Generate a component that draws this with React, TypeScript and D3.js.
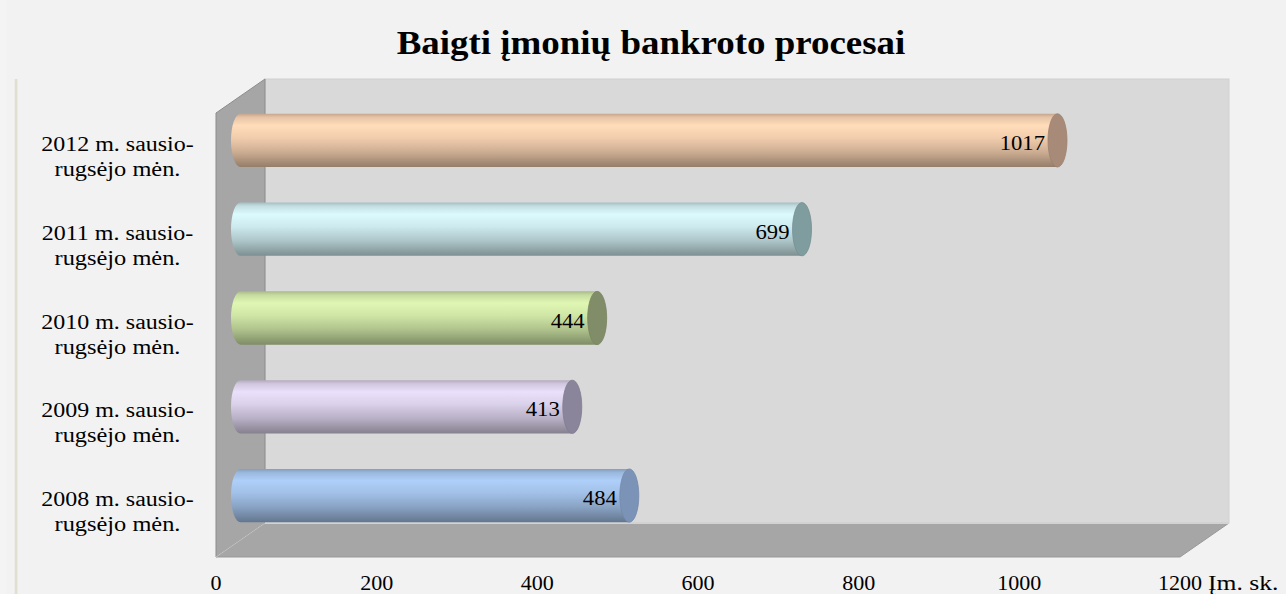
import React from 'react'
import * as d3 from 'd3'

const title = 'Baigti įmonių bankroto procesai'
const categories = [
  ['2008 m. sausio-', 'rugsėjo mėn.'],
  ['2009 m. sausio-', 'rugsėjo mėn.'],
  ['2010 m. sausio-', 'rugsėjo mėn.'],
  ['2011 m. sausio-', 'rugsėjo mėn.'],
  ['2012 m. sausio-', 'rugsėjo mėn.'],
]
const values = [484, 413, 444, 699, 1017]
const xTicks = [0, 200, 400, 600, 800, 1000, 1200]
const unitLabel = 'Įm. sk.'
const barColors = ['#a9c9f2', '#e4daf4', '#d9f0ae', '#d6f4f8', '#fdd6b5']
const capColors = ['#7b93b6', '#8a859a', '#818d68', '#7f9c9e', '#a88a78']

const W = 1286
const H = 594
const FONT = '"Liberation Serif", "Times New Roman", serif'

// 3D box: front plane + depth offset
const front = { left: 216, right: 1180, top: 113, bottom: 557 }
const depth = { dx: 49, dy: -34 }

function SText({ x, y, sx = 1, anchor = 'middle', size, weight = 'normal', children }: any) {
  return (
    <text
      transform={`translate(${x},${y}) scale(${sx},1)`}
      textAnchor={anchor}
      fontFamily={FONT}
      fontSize={size}
      fontWeight={weight}
      fill="#000"
    >
      {children}
    </text>
  )
}

export default function App() {
  const x = d3.scaleLinear().domain([0, 1200]).range([front.left, front.right])
  const idx = d3.range(categories.length)
  const y = d3
    .scaleBand<number>()
    .domain(idx.slice().reverse())
    .range([front.top, front.bottom])
    .padding(0)

  const bw = y.bandwidth()
  const r = bw * 0.3
  const rx = 9.5
  const midDx = depth.dx / 2
  const midDy = depth.dy / 2

  const bx = (v: number) => x(v) + midDx
  const bcy = (i: number) => (y(i) as number) + bw / 2 + midDy

  const back = {
    left: front.left + depth.dx,
    right: front.right + depth.dx,
    top: front.top + depth.dy,
    bottom: front.bottom + depth.dy,
  }

  const stops = (c: string) => {
    const col = d3.color(c)!
    return [
      [0, col.darker(0.7).formatHex()],
      [0.07, col.darker(0.25).formatHex()],
      [0.22, col.brighter(0.08).formatHex()],
      [0.45, col.darker(0.12).formatHex()],
      [0.72, col.darker(0.6).formatHex()],
      [1, col.darker(1.5).formatHex()],
    ] as [number, string][]
  }

  return (
    <svg
      width={W}
      height={H}
      style={{ position: 'absolute', left: 0, top: 0, display: 'block' }}
    >
      <defs>
        {barColors.map((c, i) => (
          <linearGradient key={i} id={`cyl${i}`} x1="0" y1="0" x2="0" y2="1">
            {stops(c).map(([o, s], k) => (
              <stop key={k} offset={o} stopColor={s} />
            ))}
          </linearGradient>
        ))}
        <linearGradient id="edge" x1="0" y1="0" x2="1" y2="0">
          <stop offset="0" stopColor="#f2f2f2" />
          <stop offset="0.5" stopColor="#ddd8c8" />
          <stop offset="1" stopColor="#f0f0f0" />
        </linearGradient>
      </defs>

      <rect x={0} y={0} width={W} height={H} fill="#f2f2f2" />
      <rect x={0} y={0} width={6} height={H} fill="#f4f4f4" />
      <rect x={14} y={79} width={4} height={H - 79} fill="url(#edge)" />

      <SText x={651} y={54} size={33} weight="bold" sx={1.12}>
        {title}
      </SText>

      {/* back wall */}
      <rect
        x={back.left}
        y={back.top}
        width={back.right - back.left}
        height={back.bottom - back.top}
        fill="#d9d9d9"
        stroke="#d0d0d0"
      />
      {/* side wall */}
      <polygon
        points={`${front.left},${front.top} ${back.left},${back.top} ${back.left},${back.bottom} ${front.left},${front.bottom}`}
        fill="#a6a6a6"
        stroke="#8c8c8c"
        strokeWidth={1}
      />
      {/* floor */}
      <polygon
        points={`${front.left},${front.bottom} ${back.left},${back.bottom} ${back.right},${back.bottom} ${front.right},${front.bottom}`}
        fill="#a6a6a6"
        stroke="#999"
        strokeWidth={1}
      />
      <line x1={back.left} x2={back.right} y1={back.bottom} y2={back.bottom} stroke="#d2d2d2" strokeWidth={2} />
      <line x1={front.left} y1={front.bottom} x2={back.left} y2={back.bottom} stroke="#c4c4c4" strokeWidth={1} />

      {/* cylinders */}
      {values.map((v, i) => {
        const x0 = bx(0)
        const x1 = bx(v)
        const cy = bcy(i)
        const top = cy - r
        const bot = cy + r
        const d = `M${x1},${top} L${x0},${top} A${rx},${r} 0 0 0 ${x0},${bot} L${x1},${bot} Z`
        return (
          <g key={i}>
            <path d={d} fill={`url(#cyl${i})`} />
            <ellipse cx={x1} cy={cy} rx={rx} ry={r} fill={capColors[i]} stroke={d3.color(capColors[i])!.darker(0.2).formatHex()} strokeWidth={0.8} />
            <SText x={x1 - rx - 3} y={cy + 9.5} size={22} anchor="end" sx={1.03}>
              {v}
            </SText>
          </g>
        )
      })}

      {/* category labels */}
      {categories.map((lines, i) => {
        const c = (y(i) as number) + bw / 2
        return (
          <g key={i}>
            <SText x={117.5} y={c - 6.5} size={20.5} sx={1.17}>
              {lines[0]}
            </SText>
            <SText x={117.5} y={c + 18.5} size={20.5} sx={1.19}>
              {lines[1]}
            </SText>
          </g>
        )
      })}

      {/* x ticks */}
      {xTicks.map((t) => (
        <SText key={t} x={x(t)} y={590} size={21} sx={1.05}>
          {t}
        </SText>
      ))}
      <SText x={1208} y={590} size={21} anchor="start" sx={1.22}>
        {unitLabel}
      </SText>
    </svg>
  )
}
